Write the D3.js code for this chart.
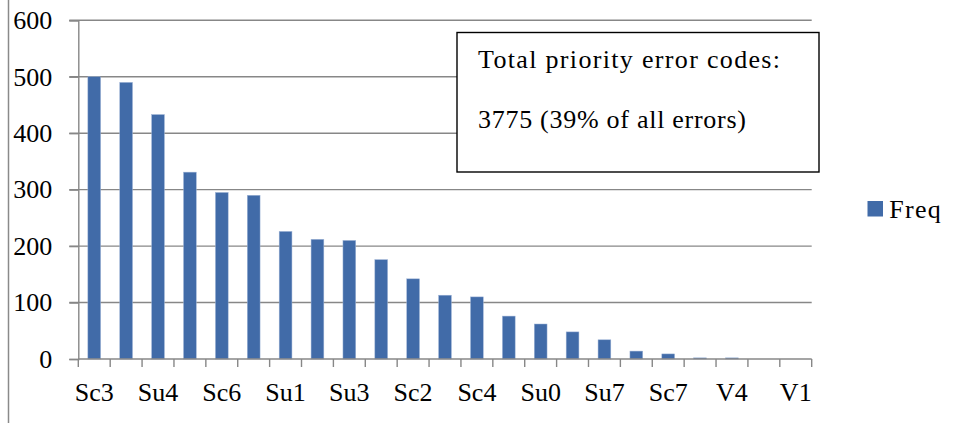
<!DOCTYPE html>
<html>
<head>
<meta charset="utf-8">
<script src="https://cdn.jsdelivr.net/npm/d3@7"></script>
<style>
  html, body { margin: 0; padding: 0; background: #fff; }
  svg { display: block; }
</style>
</head>
<body>
<svg id="chart" width="956" height="423"></svg>
<script>
const categories = ["Sc3","Sc5","Su4","Sc1","Sc6","Su2","Su1","Sc8","Su3","Su5","Sc2","Su6","Sc4","V2","Su0","Sc9","Su7","V3","Sc7","Su8","V4","V5","V1"];
const freq = [500,490,433,331,295,290,226,212,210,176,142,113,110,76,62,48,34,14,9,2,2,0,0];
const yTicks = [0,100,200,300,400,500,600];
const seriesName = "Freq";
const noteLines = ["Total priority error codes:", "3775 (39% of all errors)"];

const FONT = '"Liberation Serif", "Times New Roman", serif';
const fs = "26px";
const svg = d3.select("#chart");
const pL = 78.3, pR = 811.7, pT = 20.3, pB = 359;
const barColor = "#416BA8";
const gridColor = "#878787";

const x = d3.scaleBand().domain(categories).range([pL, pR]).paddingInner(0.6).paddingOuter(0.3);
const xb = d3.scaleBand().domain(categories).range([pL, pR]);
const y = d3.scaleLinear().domain([0, 600]).range([pB, pT]);

// outer chart border (left edge visible)
svg.append("line").attr("x1", 8.5).attr("x2", 8.5).attr("y1", 0).attr("y2", 423)
  .attr("stroke", "#8a8a8a").attr("stroke-width", 1.5);

// gridlines
svg.append("g").selectAll("line").data(yTicks.filter(d => d > 0)).join("line")
  .attr("x1", 69.3).attr("x2", pR)
  .attr("y1", d => y(d)).attr("y2", d => y(d))
  .attr("stroke", gridColor).attr("stroke-width", 1.4);

// bars
svg.append("g").selectAll("rect").data(categories).join("rect")
  .attr("x", d => x(d))
  .attr("width", x.bandwidth())
  .attr("y", (d, i) => y(freq[i]))
  .attr("height", (d, i) => pB - y(freq[i]))
  .attr("fill", barColor)
  .attr("stroke", "#9db3d6").attr("stroke-width", 0.5);

// y axis
const yAxis = svg.append("g").attr("transform", `translate(${pL},0)`)
  .call(d3.axisLeft(y).tickValues(yTicks).tickSize(9).tickPadding(17));
yAxis.select(".domain").attr("stroke", gridColor).attr("stroke-width", 1.4);
yAxis.selectAll(".tick line").attr("stroke", gridColor).attr("stroke-width", 1.4);
yAxis.selectAll("text").style("font-size", fs).style("font-family", FONT).attr("fill", "#000");

// x axis
const xAxis = svg.append("g").attr("transform", `translate(0,${pB})`)
  .call(d3.axisBottom(xb).tickSize(0).tickFormat((d, i) => i % 2 === 0 ? d : ""));
xAxis.select(".domain").attr("stroke", gridColor).attr("stroke-width", 1.4).attr("d", `M${pL},0H${pR}`);
xAxis.selectAll("text").style("font-size", fs).style("font-family", FONT).attr("fill", "#000").attr("dy", 0).attr("y", 42);
// tick marks at band boundaries
svg.append("g").selectAll("line").data(d3.range(categories.length + 1)).join("line")
  .attr("x1", i => pL + i * xb.step()).attr("x2", i => pL + i * xb.step())
  .attr("y1", pB).attr("y2", pB + 8)
  .attr("stroke", gridColor).attr("stroke-width", 1.4);

// note box
svg.append("rect").attr("x", 457).attr("y", 32.5).attr("width", 362).attr("height", 139.5)
  .attr("fill", "#fff").attr("stroke", "#000").attr("stroke-width", 1.4);
const noteWidths = [302, 268];
svg.append("g").selectAll("text").data(noteLines).join("text")
  .attr("x", 478).attr("y", (d, i) => 68.3 + i * 60)
  .attr("textLength", (d, i) => noteWidths[i]).attr("lengthAdjust", "spacing")
  .style("font-size", fs).style("font-family", FONT).attr("fill", "#000").text(d => d);

// legend
svg.append("rect").attr("x", 867.5).attr("y", 201).attr("width", 15.5).attr("height", 15.5).attr("fill", barColor);
svg.append("text").attr("x", 889.3).attr("y", 218)
  .attr("textLength", 51.5).attr("lengthAdjust", "spacing")
  .style("font-size", fs).style("font-family", FONT).attr("fill", "#000").text(seriesName);
</script>
</body>
</html>
